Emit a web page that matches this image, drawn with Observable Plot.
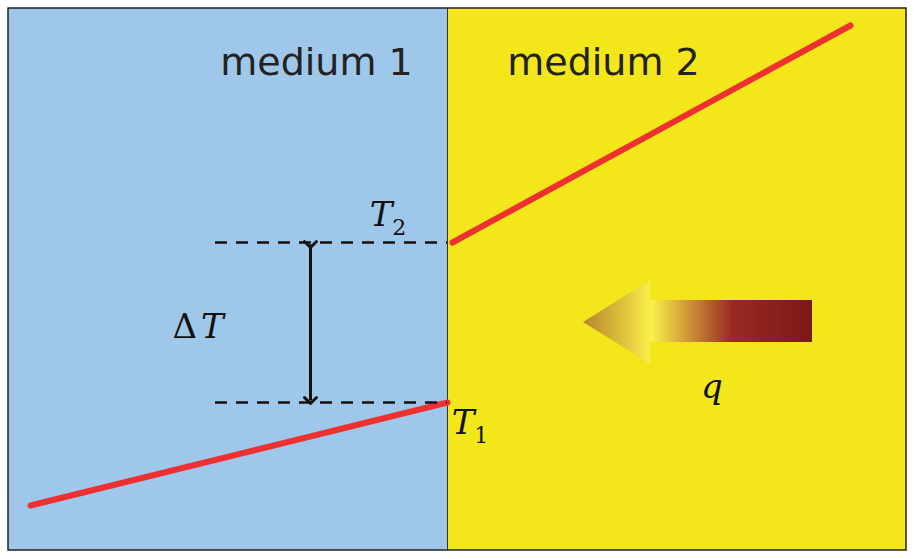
<!DOCTYPE html>
<html><head><meta charset="utf-8">
<script src="https://cdn.jsdelivr.net/npm/d3@7"></script>
<script src="https://cdn.jsdelivr.net/npm/@observablehq/plot@0.6"></script>
<style>body{margin:0;background:#fff}</style>
</head><body><div id="chart"></div>
<script>
// regions of the diagram (pixel-like units)
const regions = [
  {x1: 8, x2: 447, y1: 8, y2: 550, fill: "#9fc7ea"},
  {x1: 447, x2: 906, y1: 8, y2: 550, fill: "#f3e61a"}
]
const profile1 = [{x: 30, y: 505}, {x: 447, y: 402}]
const profile2 = [{x: 452, y: 242}, {x: 850, y: 25}]
const dashes = [
  {x1: 215, x2: 447, y: 242},
  {x1: 215, x2: 447, y: 402}
]
const deltaArrow = [{x1: 310, y1: 244, x2: 310, y2: 400}]
const fluxArrow = [
  {x: 583, y1: 322, y2: 322},
  {x: 650, y1: 280, y2: 364},
  {x: 650, y1: 300, y2: 342},
  {x: 812, y1: 300, y2: 342}
]
const labels = [
  {x: 316, y: 62, text: "medium 1", kind: "sans"},
  {x: 603, y: 62, text: "medium 2", kind: "sans"}
]

let chart = Plot.plot({
  width: 914, height: 559,
  margin: 0,
  x: {domain: [0, 914], axis: null},
  y: {domain: [559, 0], axis: null},
  marks: [
    Plot.rect(regions, {x1: "x1", x2: "x2", y1: "y1", y2: "y2", fill: "fill"}),
    Plot.rect([regions[0]], {x1: 8, x2: 906, y1: 8, y2: 550, fill: "none", stroke: "#222", strokeWidth: 1.5}),
    Plot.ruleX([447], {y1: 8, y2: 550, stroke: "#333", strokeWidth: 1}),
    Plot.line(profile1, {x: "x", y: "y", stroke: "#ee3030", strokeWidth: 6}),
    Plot.line(profile2, {x: "x", y: "y", stroke: "#ee3030", strokeWidth: 6}),
    Plot.ruleY(dashes, {x1: "x1", x2: "x2", y: "y", stroke: "#111", strokeWidth: 2.5, strokeDasharray: "12,9"}),
    Plot.link(deltaArrow, {x1: "x1", y1: "y1", x2: "x2", y2: "y2", stroke: "#111", strokeWidth: 3, markerStart: "arrow", markerEnd: "arrow"}),
    Plot.areaY(fluxArrow, {x: "x", y1: "y1", y2: "y2", fill: "url(#fluxgrad)", curve: "linear"}),
    Plot.text(labels, {x: "x", y: "y", text: "text", fontSize: 38, fontFamily: "DejaVu Sans", fill: "#222"})
  ]
})

const svg = d3.select(chart)
const grad = svg.insert("defs", ":first-child").append("linearGradient")
  .attr("id", "fluxgrad").attr("gradientUnits", "userSpaceOnUse")
  .attr("x1", 583).attr("x2", 812).attr("y1", 0).attr("y2", 0)
grad.append("stop").attr("offset", "0").attr("stop-color", "#b5842c")
grad.append("stop").attr("offset", "0.3").attr("stop-color", "#fbf04a")
grad.append("stop").attr("offset", "0.65").attr("stop-color", "#9a2a22")
grad.append("stop").attr("offset", "1").attr("stop-color", "#7a1818")

// math labels as real text with subscripts
function mathLabel(x, y, main, sub) {
  const t = svg.append("text").attr("x", x).attr("y", y)
    .attr("font-family", "DejaVu Serif").attr("font-size", 34).attr("fill", "#111")
  t.append("tspan").attr("font-style", "italic").text(main)
  if (sub) t.append("tspan").attr("font-size", 22).attr("dy", 9).text(sub)
}
mathLabel(388, 226, "T", "2")
mathLabel(470, 434, "T", "1")
const dt = svg.append("text").attr("x", 198).attr("y", 338)
  .attr("font-family", "DejaVu Serif").attr("font-size", 34).attr("fill", "#111")
dt.append("tspan").text("Δ")
dt.append("tspan").attr("font-style", "italic").attr("dx", 4).text("T")
svg.append("text").attr("x", 712).attr("y", 398).attr("font-family", "DejaVu Serif")
  .attr("font-style", "italic").attr("font-size", 34).attr("fill", "#111").text("q")

d3.select('#chart').append(() => chart)
</script></body></html>
